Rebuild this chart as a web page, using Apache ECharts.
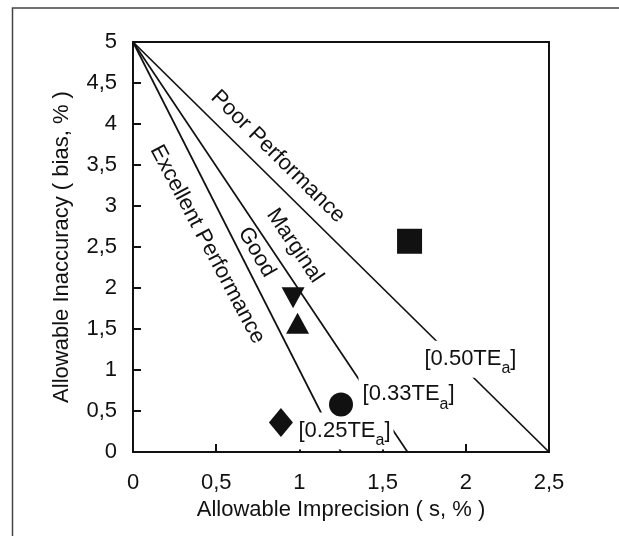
<!DOCTYPE html>
<html>
<head>
<meta charset="utf-8">
<script src="https://cdn.jsdelivr.net/npm/echarts@6/dist/echarts.min.js"></script>
<style>
html,body{margin:0;padding:0;background:#fff;}
#c{width:619px;height:536px;}
</style>
</head>
<body>
<div id="c"></div>
<script>
// ---- data ----
var xTicks = [0, 0.5, 1, 1.5, 2, 2.5];
var yTicks = [0, 0.5, 1, 1.5, 2, 2.5, 3, 3.5, 4, 4.5, 5];
var lineNames = ['0.50TEa', '0.33TEa', '0.25TEa'];
var lineStart = [[0, 5], [0, 5], [0, 5]];
var lineEnd = [[2.5, 0], [1.65, 0], [1.25, 0]];
var pointSquare = [[1.662, 2.57]];
var pointDown = [[0.962, 1.88]];
var pointUp = [[0.989, 1.57]];
var pointCircle = [[1.25, 0.58]];
var pointDiamond = [[0.889, 0.36]];
var lineLabelText = ['[0.50TE', '[0.33TE', '[0.25TE'];
var lineLabelPos = [[2.025, 1.13], [1.653, 0.70], [1.268, 0.255]];
var zoneText = ['Poor Performance', 'Marginal', 'Good', 'Excellent Performance'];
var zonePos = [[0.871, 3.602], [0.972, 2.515], [0.743, 2.436], [0.447, 2.532]];
var zoneRot = [-44.6, -56, -60, -62];

var INK = '#111';
var FONT = '"Liberation Sans", Arial, Helvetica, sans-serif';
function comma(v){ return String(v).replace('.', ','); }

var series = [];
for (var i = 0; i < lineStart.length; i++) {
  series.push({
    type: 'line', name: lineNames[i], data: [lineStart[i], lineEnd[i]],
    symbol: 'none', silent: true, z: 2,
    lineStyle: {color: INK, width: 1.7}
  });
}
function mk(data, symbol, size, rot) {
  return {type: 'scatter', data: data, symbol: symbol, symbolSize: size,
    symbolRotate: rot || 0, z: 5, itemStyle: {color: INK, opacity: 1}};
}
series.push(mk(pointSquare, 'rect', 25));
series.push(mk(pointDown, 'triangle', [23, 21], 180));
series.push(mk(pointUp, 'triangle', [23, 21]));
series.push(mk(pointCircle, 'circle', 24));
series.push(mk(pointDiamond, 'diamond', [24, 29]));

var noBorder = {textBorderWidth: 0, textBorderColor: 'transparent', textShadowBlur: 0};

// line labels with white background (cover the lines)
series.push({
  type: 'scatter', symbolSize: 1, z: 4, silent: true,
  itemStyle: {color: 'rgba(0,0,0,0)', opacity: 1},
  data: lineLabelPos.map(function(p, i){
    return {value: p, label: {formatter: '{n|' + lineLabelText[i] + '}{s|a}{n|]}'}};
  }),
  label: Object.assign({
    show: true, position: 'inside', color: INK, fontFamily: FONT,
    backgroundColor: '#fff', padding: [7, 3, 1, 4],
    rich: {
      n: Object.assign({fontSize: 22, fontFamily: FONT, color: INK, lineHeight: 22, verticalAlign: 'top'}, noBorder),
      s: Object.assign({fontSize: 16, fontFamily: FONT, color: INK, lineHeight: 29, verticalAlign: 'bottom'}, noBorder)
    }
  }, noBorder)
});
// zone labels (rotated)
series.push({
  type: 'scatter', symbolSize: 1, z: 4, silent: true,
  itemStyle: {color: 'rgba(0,0,0,0)', opacity: 1},
  data: zonePos.map(function(p, i){
    return {value: p, label: {formatter: zoneText[i], rotate: zoneRot[i]}};
  }),
  label: Object.assign({show: true, position: 'inside', color: INK, fontFamily: FONT, fontSize: 22}, noBorder)
});

var chart = echarts.init(document.getElementById('c'), null, {renderer: 'canvas'});
chart.setOption({
  backgroundColor: '#fff',
  animation: false,
  graphic: [{
    type: 'rect', shape: {x: 12.5, y: 8, width: 640, height: 600},
    style: {fill: 'none', stroke: '#444', lineWidth: 1.5}, silent: true, z: 0
  }],
  grid: {left: 133, right: 70, top: 42, bottom: 84, show: true,
    borderColor: INK, borderWidth: 2, backgroundColor: 'transparent'},
  xAxis: {
    type: 'value', min: 0, max: 2.5, interval: 0.5,
    name: 'Allowable Imprecision ( s, % )', nameLocation: 'middle', nameGap: 46,
    nameTextStyle: {fontSize: 22, color: INK, fontFamily: FONT},
    axisLine: {show: true, lineStyle: {color: INK, width: 2}},
    axisTick: {show: true, inside: true, length: 8, lineStyle: {color: INK, width: 2}},
    axisLabel: {fontSize: 22, color: INK, fontFamily: FONT, margin: 20, formatter: comma},
    splitLine: {show: false}
  },
  yAxis: {
    type: 'value', min: 0, max: 5, interval: 0.5,
    name: 'Allowable Inaccuracy ( bias, % )', nameLocation: 'middle', nameGap: 60,
    nameTextStyle: {fontSize: 22, color: INK, fontFamily: FONT},
    axisLine: {show: true, lineStyle: {color: INK, width: 2}},
    axisTick: {show: true, inside: true, length: 8, lineStyle: {color: INK, width: 2}},
    axisLabel: {fontSize: 22, color: INK, fontFamily: FONT, margin: 16, formatter: comma},
    splitLine: {show: false}
  },
  series: series
});
</script>
</body>
</html>
